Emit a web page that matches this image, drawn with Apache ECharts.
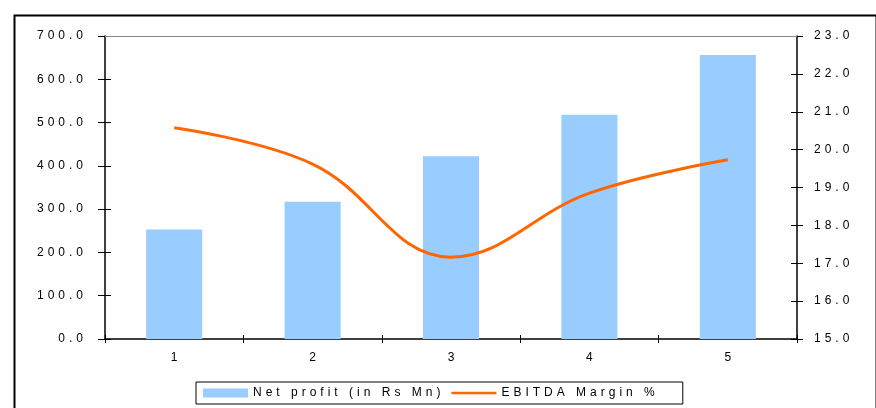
<!DOCTYPE html>
<html>
<head>
<meta charset="utf-8">
<script src="https://cdn.jsdelivr.net/npm/echarts@6/dist/echarts.min.js"></script>
<style>
  html, body { margin: 0; padding: 0; background: #fff; }
  #chart { width: 876px; height: 408px; }
</style>
</head>
<body>
<div id="chart"></div>
<script>
// Years (periods) on the category axis
const categories = ['1', '2', '3', '4', '5'];
// Net profit, Rs Mn (left axis)
const netProfit = [253, 317, 422, 518, 656];
// EBITDA margin, % (right axis)
const ebitdaMargin = [20.58, 19.62, 17.16, 18.85, 19.73];

const leftTicks = { min: 0, max: 700, interval: 100 };
const rightTicks = { min: 15, max: 23, interval: 1 };

const FONT = 'Liberation Sans, Arial, sans-serif';
// widen letters the way the old spreadsheet export did
const spaced = s => String(s).split('').join('\u2004');

const chart = echarts.init(document.getElementById('chart'), null, { renderer: 'canvas' });

const tickStyle = { color: '#000', width: 1 };
const labelStyle = { color: '#000', fontSize: 12, fontFamily: FONT };

chart.setOption({
  animation: false,
  textStyle: { fontFamily: FONT },
  grid: { left: 105, right: 79, top: 36, bottom: 69, containLabel: false },
  graphic: [{
    type: 'rect',
    left: 12, top: 13,
    shape: { width: 862, height: 420 },
    style: { fill: 'none', stroke: '#000', lineWidth: 2 },
    silent: true
  }],
  legend: {
    left: 196, top: 382,
    orient: 'horizontal',
    borderColor: '#000', borderWidth: 1,
    padding: [5, 28, 5, 7],
    itemWidth: 45, itemHeight: 9, itemGap: 11,
    textStyle: { color: '#000', fontSize: 12, fontFamily: FONT },
    formatter: name => spaced(name),
    data: [
      { name: 'Net profit (in Rs Mn)', icon: 'rect' },
      // plain thick stroke as the line's key (bounding box kept at the full item size)
      { name: 'EBITDA Margin %', icon: 'path://M0,0M45,9M0,3.2H45V5.8H0Z', itemStyle: { color: '#FF6600' } }
    ]
  },
  xAxis: [{
    type: 'category', data: categories, boundaryGap: true,
    axisLine: { lineStyle: { color: '#000', width: 1.5 } },
    axisTick: { show: true, length: 4, lineStyle: tickStyle, alignWithLabel: false },
    axisLabel: Object.assign({ margin: 13 }, labelStyle),
    splitLine: { show: false }
  }, {
    type: 'category', data: categories, boundaryGap: true, position: 'bottom',
    axisLine: { show: false },
    axisTick: { show: true, inside: true, length: 4, lineStyle: tickStyle },
    axisLabel: { show: false },
    splitLine: { show: false }
  }],
  yAxis: [{
    type: 'value', position: 'left', ...leftTicks,
    axisLine: { show: true, lineStyle: { color: '#000', width: 1.5 } },
    axisTick: { show: true, length: 7, lineStyle: tickStyle },
    axisLabel: Object.assign({ margin: 22, formatter: v => spaced(v.toFixed(1)) }, labelStyle),
    splitLine: { show: false }
  }, {
    type: 'value', position: 'right', ...rightTicks,
    axisLine: { show: true, lineStyle: { color: '#000', width: 1.5 } },
    axisTick: { show: true, length: 6, lineStyle: tickStyle },
    axisLabel: Object.assign({ margin: 17, formatter: v => spaced(v.toFixed(1)) }, labelStyle),
    splitLine: { show: false }
  }, {
    type: 'value', position: 'left', ...leftTicks,
    axisLine: { show: false },
    axisTick: { show: true, inside: true, length: 6, lineStyle: tickStyle },
    axisLabel: { show: false }, splitLine: { show: false }
  }, {
    type: 'value', position: 'right', ...rightTicks,
    axisLine: { show: false },
    axisTick: { show: true, inside: true, length: 6, lineStyle: tickStyle },
    axisLabel: { show: false }, splitLine: { show: false }
  }],
  series: [{
    name: 'Net profit (in Rs Mn)',
    type: 'bar',
    xAxisIndex: 0, yAxisIndex: 0,
    data: netProfit,
    barWidth: '40.5%',
    itemStyle: { color: '#99CCFF' },
    markLine: {
      silent: true, symbol: 'none', label: { show: false },
      lineStyle: { color: '#888', width: 1, type: 'solid' },
      data: [{ yAxis: leftTicks.max }]
    },
    z: 2
  }, {
    name: 'EBITDA Margin %',
    type: 'line',
    xAxisIndex: 0, yAxisIndex: 1,
    data: ebitdaMargin,
    smooth: 0.4,
    symbol: 'none',
    lineStyle: { color: '#FF6600', width: 3 },
    itemStyle: { color: '#FF6600' },
    z: 3
  }]
});
</script>
</body>
</html>
